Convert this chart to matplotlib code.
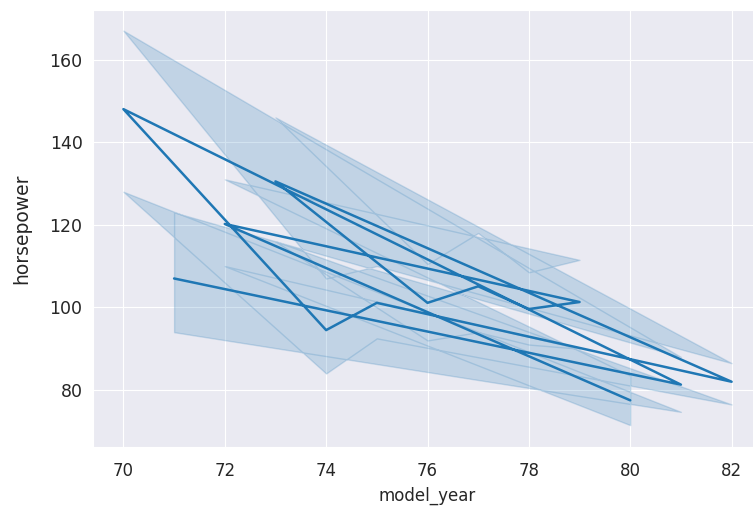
import matplotlib
matplotlib.use("Agg")
import matplotlib.pyplot as plt
import seaborn as sns

# x values in the order they were drawn (unsorted line)
model_year = [71, 81, 70, 74, 75, 82, 73, 76, 77, 78, 79, 72, 80]
# mean horsepower for each year, same order
hp_mean = [107.0, 81.3, 148.0, 94.5, 101.1, 82.0, 130.5, 101.1, 105.1, 99.6, 101.3, 120.2, 77.5]
# confidence band
hp_low = [94.0, 74.7, 128.0, 84.0, 92.5, 76.5, 116.0, 92.0, 94.0, 91.0, 90.0, 110.0, 71.5]
hp_high = [123.0, 88.0, 167.0, 107.0, 110.0, 86.5, 146.0, 110.5, 118.0, 108.5, 111.5, 131.0, 83.5]

sns.set_style("darkgrid")

fig = plt.figure(figsize=(7.53, 5.13), dpi=100)
ax = fig.add_axes([93 / 753, 66 / 513, 669 / 753, 437 / 513])

ax.fill_between(model_year, hp_low, hp_high, color="C0", alpha=0.2)
ax.plot(model_year, hp_mean, color="C0", linewidth=1.8)

ax.set_xlim(69.4, 82.6)
ax.set_ylim(66.2, 172.0)
ax.set_xticks([70, 72, 74, 76, 78, 80, 82])
ax.set_yticks([80, 100, 120, 140, 160])
ax.tick_params(axis="x", labelsize=12, pad=7)
ax.tick_params(axis="y", labelsize=12.5, pad=4)
ax.set_xlabel("model_year", fontsize=12, labelpad=5)
ax.set_ylabel("horsepower", fontsize=13.5, labelpad=13)

fig.savefig("out.png", dpi=100)
